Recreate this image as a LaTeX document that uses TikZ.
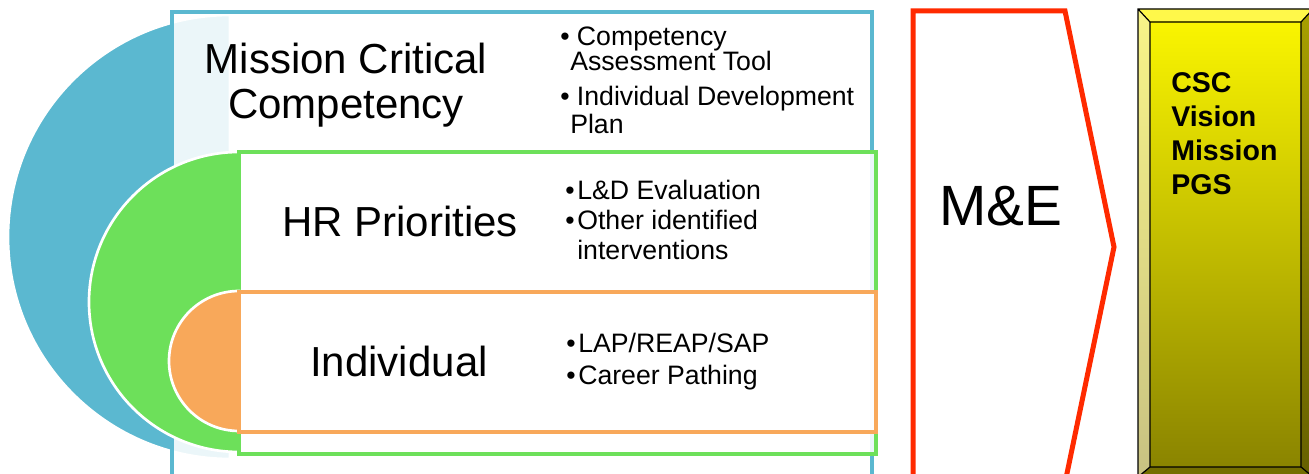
\documentclass[tikz,border=0pt]{standalone}
\usepackage{fontspec}
\setmainfont{Liberation Sans}
\usetikzlibrary{positioning}
\definecolor{txt}{HTML}{000000}
\definecolor{mcB}{HTML}{5BB8D0}
\definecolor{hrB}{HTML}{6DE05A}
\definecolor{inB}{HTML}{F8A85A}
\definecolor{meB}{HTML}{FF2A00}
\definecolor{ylT}{HTML}{FAF500}
\definecolor{ylD}{HTML}{8A8400}
\definecolor{bvT}{HTML}{FFF84A}
\definecolor{bvL}{HTML}{F8F488}
\definecolor{bvLd}{HTML}{C8C282}
\definecolor{bvR}{HTML}{A8A000}
\definecolor{bvRd}{HTML}{666000}
\definecolor{bvB}{HTML}{746E00}

\begin{document}
\begin{tikzpicture}[x=0.75pt,y=0.75pt,text=txt,
  half/.style={draw=white,line width=2pt},
  lvl/.style={fill=white,fill opacity=0.88,line width=3pt},
  big/.style={font=\fontsize{31.5}{33.75}\selectfont,align=center,inner sep=0pt},
  pts/.style={font=\fontsize{20}{18.75}\selectfont,align=left,anchor=north west,inner sep=0pt},
  vis/.style={font=\fontsize{21.4}{25.5}\selectfont\bfseries,align=left,anchor=north west,inner sep=0pt}]

\useasboundingbox (0,0) rectangle (1309,474);
\clip (0,0) rectangle (1309,474);

% nested levels
\path[half,fill=mcB] (230,459) arc[start angle=90,end angle=270,radius=222] -- cycle;
\draw[lvl,draw=mcB] (172,462) rectangle (872,-20);
\path[half,fill=hrB] (239,322) arc[start angle=90,end angle=270,radius=150] -- cycle;
\draw[lvl,draw=hrB] (239,322) rectangle (876,20);
\path[half,fill=inB] (239,183) arc[start angle=90,end angle=270,radius=70] -- cycle;
\draw[lvl,draw=inB] (239,182) rectangle (876,42);

\node[big,anchor=north] (mcc) at (346,431) {Mission Critical\\Competency};
\node[big,anchor=base] (hr) at (400,237) {HR Priorities};
\node[big,anchor=base] (ind) at (399,97) {Individual};

\node[pts] (mccList) at (560,447) {\textbullet\ Competency\\\hspace*{7.5pt}Assessment Tool\\[7.5pt]
  \textbullet\ Individual Development\\[2.25pt]\hspace*{7.5pt}Plan};
\node[pts,font=\fontsize{20}{22.5}\selectfont] (hrList) at (565,294) {\textbullet\kern2pt L\&D Evaluation\\
  \textbullet\kern2pt Other identified\\\phantom{\textbullet}\kern2pt interventions};
\node[pts,font=\fontsize{20}{24}\selectfont] (indList) at (566,141) {\textbullet\kern2pt LAP/REAP/SAP\\
  \textbullet\kern2pt Career Pathing};

% monitoring arrow
\draw[meB,line width=3.75pt,miter limit=10] (913,463) -- (1065,463) -- (1114,227) -- (1065,-9) -- (913,-9) -- cycle;
\node[font=\fontsize{42.6}{45}\selectfont,inner sep=0pt,anchor=base] (me) at (1001,248) {M\&E};

% bevelled goal block
\fill[bvT] (1138,465) -- (1313,465) -- (1301,452) -- (1150,452) -- cycle;
\shade[top color=bvL,bottom color=bvLd] (1138,465) -- (1150,452) -- (1150,7) -- (1138,-3) -- cycle;
\shade[top color=bvR,bottom color=bvRd] (1313,465) -- (1301,452) -- (1301,7) -- (1313,-3) -- cycle;
\fill[bvB] (1138,-3) -- (1150,7) -- (1301,7) -- (1313,-3) -- cycle;
\shade[top color=ylT,bottom color=ylD] (1150,452) rectangle (1301,7);
\draw[line width=0.9pt] (1138,465) rectangle (1313,-3) (1150,452) rectangle (1301,7)
  (1138,465) -- (1150,452) (1313,465) -- (1301,452) (1138,-3) -- (1150,7) (1313,-3) -- (1301,7);
\node[vis] (csc) at (1171,402) {CSC\\Vision\\Mission\\PGS};

\end{tikzpicture}
\end{document}
